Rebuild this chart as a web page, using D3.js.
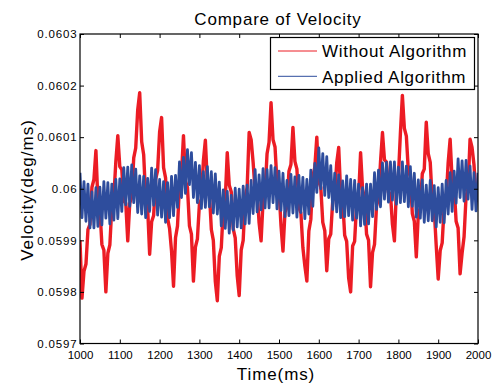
<!DOCTYPE html>
<html>
<head>
<meta charset="utf-8">
<script src="https://cdn.jsdelivr.net/npm/d3@7"></script>
<style>
    html, body { margin: 0; padding: 0; background: #fff; }
    svg { display: block; font-family: "Liberation Sans", Arial, Helvetica, sans-serif; }
</style>
</head>
<body>
<div id="chart"></div>
<script>
// samples every 5 ms starting at 1000 ms
const start_time = 1000;
const sample_step = 5;

const without_algorithm = [
    0.059900, 0.059788, 0.059840, 0.059854, 0.059921, 0.059931, 0.060003, 0.060018, 0.060074, 0.059975,
    0.059960, 0.059892, 0.059881, 0.059800, 0.059875, 0.059891, 0.059965, 0.059983, 0.060052, 0.060103,
    0.060043, 0.060037, 0.059976, 0.059972, 0.059899, 0.059972, 0.059984, 0.060060, 0.060079, 0.060153,
    0.060186, 0.060091, 0.060066, 0.059982, 0.059962, 0.059873, 0.059936, 0.059948, 0.060018, 0.060035,
    0.060110, 0.060138, 0.060041, 0.060021, 0.059943, 0.059923, 0.059879, 0.059811, 0.059905, 0.059928,
    0.060007, 0.060029, 0.060103, 0.060015, 0.060003, 0.059928, 0.059912, 0.059821, 0.059887, 0.059903,
    0.059970, 0.059980, 0.060054, 0.060094, 0.060011, 0.059994, 0.059921, 0.059900, 0.059820, 0.059783,
    0.059869, 0.059886, 0.059962, 0.059980, 0.060070, 0.060007, 0.059994, 0.059922, 0.059905, 0.059831,
    0.059793, 0.059881, 0.059900, 0.059981, 0.060003, 0.060109, 0.060095, 0.060051, 0.059995, 0.059996,
    0.059934, 0.059899, 0.059977, 0.059993, 0.060068, 0.060090, 0.060167, 0.060095, 0.060081, 0.060011,
    0.059999, 0.059929, 0.059879, 0.059954, 0.059965, 0.060034, 0.060047, 0.060119, 0.060053, 0.060038,
    0.059964, 0.059953, 0.059886, 0.059850, 0.059821, 0.059918, 0.059941, 0.060024, 0.060042, 0.060100,
    0.060014, 0.060003, 0.059935, 0.059919, 0.059841, 0.059903, 0.059912, 0.059977, 0.059984, 0.060050,
    0.060080, 0.059990, 0.059979, 0.059910, 0.059898, 0.059827, 0.059800, 0.059889, 0.059898, 0.059971,
    0.059985, 0.060070, 0.059999, 0.059982, 0.059912, 0.059900, 0.059810, 0.059876, 0.059892, 0.059966,
    0.059982, 0.060051, 0.060109, 0.060056, 0.060052, 0.059993, 0.059991, 0.059931, 0.059899, 0.060000,
    0.060024, 0.060107, 0.060181, 0.060117, 0.060102, 0.060034, 0.060024, 0.059952, 0.059937, 0.059868,
    0.059951, 0.059963, 0.060029, 0.060038, 0.060129, 0.060068, 0.060051, 0.059977, 0.059960, 0.059890,
    0.059825, 0.059880, 0.059895, 0.059966, 0.059979, 0.060050, 0.060096, 0.060017, 0.060006, 0.059937,
    0.059924, 0.059835, 0.059875, 0.059907, 0.059985, 0.060000, 0.060096, 0.060080, 0.060046, 0.059984,
    0.059975
];

const applied_algorithm = [
    0.060031, 0.059944, 0.060014, 0.059937, 0.060009, 0.059924, 0.059994, 0.059924, 0.060002, 0.059927,
    0.060003, 0.059930, 0.060014, 0.059943, 0.060012, 0.059932, 0.060009, 0.059939, 0.060018, 0.059942,
    0.060019, 0.059956, 0.060041, 0.059969, 0.060042, 0.059966, 0.060046, 0.059973, 0.060038, 0.059954,
    0.060025, 0.059951, 0.060024, 0.059944, 0.060020, 0.059956, 0.060040, 0.059968, 0.060037, 0.059949,
    0.060018, 0.059945, 0.060014, 0.059935, 0.060012, 0.059944, 0.060024, 0.059948, 0.060026, 0.059964,
    0.060052, 0.059983, 0.060061, 0.059991, 0.060076, 0.060008, 0.060070, 0.059983, 0.060051, 0.059973,
    0.060045, 0.059962, 0.060033, 0.059964, 0.060043, 0.059965, 0.060033, 0.059953, 0.060029, 0.059951,
    0.060013, 0.059928, 0.059998, 0.059923, 0.059995, 0.059914, 0.059987, 0.059920, 0.060001, 0.059926,
    0.059999, 0.059924, 0.060005, 0.059932, 0.060007, 0.059933, 0.060016, 0.059952, 0.060037, 0.059955,
    0.060027, 0.059959, 0.060039, 0.059963, 0.060037, 0.059963, 0.060045, 0.059973, 0.060041, 0.059961,
    0.060034, 0.059958, 0.060030, 0.059946, 0.060016, 0.059948, 0.060028, 0.059953, 0.060023, 0.059945,
    0.060026, 0.059954, 0.060022, 0.059942, 0.060018, 0.059951, 0.060036, 0.059966, 0.060049, 0.059993,
    0.060079, 0.060000, 0.060068, 0.059987, 0.060062, 0.059983, 0.060045, 0.059960, 0.060030, 0.059955,
    0.060027, 0.059944, 0.060015, 0.059946, 0.060025, 0.059948, 0.060018, 0.059939, 0.060016, 0.059943,
    0.060009, 0.059928, 0.060002, 0.059931, 0.060009, 0.059932, 0.060009, 0.059946, 0.060031, 0.059960,
    0.060036, 0.059965, 0.060050, 0.059980, 0.060051, 0.059974, 0.060052, 0.059978, 0.060052, 0.059970,
    0.060042, 0.059973, 0.060052, 0.059975, 0.060044, 0.059965, 0.060043, 0.059966, 0.060030, 0.059945,
    0.060017, 0.059943, 0.060017, 0.059935, 0.060007, 0.059938, 0.060016, 0.059938, 0.060006, 0.059926,
    0.060002, 0.059935, 0.060009, 0.059934, 0.060016, 0.059951, 0.060031, 0.059956, 0.060034, 0.059972,
    0.060058, 0.059983, 0.060054, 0.059976, 0.060055, 0.059980, 0.060044, 0.059960, 0.060031, 0.059957,
    0.060031
];

const series_names = ['Without Algorithm', 'Applied Algorithm'];
const series_colors = ['#ec1c24', '#2e4d9d'];
const series_widths = [3.4, 2.8];

const x_ticks = [1000, 1100, 1200, 1300, 1400, 1500, 1600, 1700, 1800, 1900, 2000];
const y_ticks = [0.0597, 0.0598, 0.0599, 0.06, 0.0601, 0.0602, 0.0603];
const y_tick_labels = ['0.0597', '0.0598', '0.0599', '0.06', '0.0601', '0.0602', '0.0603'];

const width = 499;
const height = 388;
const plot = { left: 80, right: 478, top: 34, bottom: 343.5 };

const svg = d3.select('#chart')
    .append('svg')
    .attr('width', width)
    .attr('height', height);

const x = d3.scaleLinear().domain([1000, 2000]).range([plot.left, plot.right]);
const y = d3.scaleLinear().domain([0.0597, 0.0603]).range([plot.bottom, plot.top]);

svg.append('defs')
    .append('clipPath')
    .attr('id', 'plot_clip')
    .append('rect')
    .attr('x', plot.left)
    .attr('y', plot.top)
    .attr('width', plot.right - plot.left)
    .attr('height', plot.bottom - plot.top);

const line = d3.line()
    .x((d, i) => x(start_time + i * sample_step))
    .y(d => y(d));

const lines = svg.append('g').attr('clip-path', 'url(#plot_clip)');

[without_algorithm, applied_algorithm].forEach((values, i) => {
    lines.append('path')
        .datum(values)
        .attr('fill', 'none')
        .attr('stroke', series_colors[i])
        .attr('stroke-width', series_widths[i])
        .attr('stroke-linejoin', 'round')
        .attr('d', line);
});

// axes, ticks pointing inwards like matlab
const bottom_axis = svg.append('g')
    .attr('transform', `translate(0, ${plot.bottom})`)
    .call(d3.axisBottom(x).tickValues(x_ticks).tickFormat(d3.format('d')).tickSize(-4).tickSizeOuter(0).tickPadding(7.3));

const left_axis = svg.append('g')
    .attr('transform', `translate(${plot.left}, 0)`)
    .call(d3.axisLeft(y).tickValues(y_ticks).tickFormat((d, i) => y_tick_labels[i]).tickSize(-4).tickSizeOuter(0).tickPadding(2.5));

svg.append('g')
    .attr('transform', `translate(0, ${plot.top})`)
    .call(d3.axisTop(x).tickValues(x_ticks).tickFormat('').tickSize(-4).tickSizeOuter(0));

svg.append('g')
    .attr('transform', `translate(${plot.right}, 0)`)
    .call(d3.axisRight(y).tickValues(y_ticks).tickFormat('').tickSize(-4).tickSizeOuter(0));

svg.selectAll('.domain').remove();
svg.selectAll('.tick line').attr('stroke', '#000');

bottom_axis.selectAll('text')
    .style('font-size', '11.5px')
    .attr('fill', '#000');

left_axis.selectAll('text')
    .style('font-size', '11.5px')
    .style('letter-spacing', '0.85px')
    .attr('fill', '#000');

svg.append('rect')
    .attr('x', plot.left)
    .attr('y', plot.top)
    .attr('width', plot.right - plot.left)
    .attr('height', plot.bottom - plot.top)
    .attr('fill', 'none')
    .attr('stroke', '#000')
    .attr('stroke-width', 1.2);

// title and labels
svg.append('text')
    .attr('x', 278)
    .attr('y', 25)
    .attr('text-anchor', 'middle')
    .style('font-size', '17px')
    .style('letter-spacing', '0.8px')
    .text('Compare of Velocity');

svg.append('text')
    .attr('x', 276)
    .attr('y', 380)
    .attr('text-anchor', 'middle')
    .style('font-size', '17px')
    .style('letter-spacing', '0.9px')
    .text('Time(ms)');

svg.append('text')
    .attr('transform', 'translate(33, 190) rotate(-90)')
    .attr('text-anchor', 'middle')
    .style('font-size', '17px')
    .style('letter-spacing', '1px')
    .text('Velocity(deg/ms)');

// legend
const legend = svg.append('g').attr('transform', 'translate(270, 37)');

legend.append('rect')
    .attr('x', 0.5)
    .attr('y', 0.5)
    .attr('width', 204)
    .attr('height', 52)
    .attr('fill', '#fff')
    .attr('stroke', '#000')
    .attr('stroke-width', 1.2);

const legend_items = legend.selectAll('.legend')
    .data(series_names)
    .enter()
    .append('g')
    .attr('class', 'legend')
    .attr('transform', (d, i) => `translate(0, ${14 + i * 25.3})`);

legend_items.append('line')
    .attr('x1', 8)
    .attr('x2', 47)
    .attr('stroke', (d, i) => series_colors[i])
    .attr('stroke-width', 1);

legend_items.append('text')
    .attr('x', 52)
    .attr('y', 6.3)
    .style('font-size', '17px')
    .style('letter-spacing', '0.7px')
    .text(d => d);
</script>
</body>
</html>
